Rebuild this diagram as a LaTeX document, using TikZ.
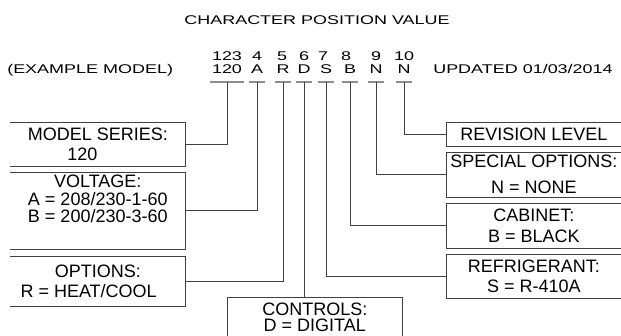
\documentclass[tikz,border=0pt]{standalone}
\usepackage{fontspec}
\setmainfont{Liberation Sans}
\newfontfamily\widefont[FakeStretch=1.42]{Liberation Sans}
\usetikzlibrary{calc}

\begin{document}
\begin{tikzpicture}[x=0.25mm, y=-0.25mm,
    every node/.style={font=\fontsize{12.8}{14.5}\selectfont},
    toptext/.style={font=\fontsize{9}{11}\selectfont\widefont, inner sep=0pt},
    charbox/.style={toptext, anchor=base, inner xsep=1pt, inner ysep=6pt, text depth=0pt},
    infobox/.style={minimum width=43.75mm, inner sep=0pt, align=center, anchor=north west},
    frame/.style={black!75, line width=0.7pt},
    underl/.style={black!45, line width=1.1pt},
    lead/.style={black!75, line width=0.7pt}]
        \useasboundingbox (0,0) rectangle (621,335);
        % heading and model line
        \node[toptext, anchor=base] (title) at (317,24) {CHARACTER POSITION VALUE};
        \node[toptext, anchor=base west] (example) at (7,73.3) {(EXAMPLE MODEL)};
        \node[toptext, anchor=base west] (updated) at (433,73.3) {UPDATED 01/03/2014};
        % character positions
        \node[toptext, anchor=base] (p1) at (227,60.7) {123};
        \node[toptext, anchor=base] (p4) at (257,60.7) {4};
        \node[toptext, anchor=base] (p5) at (282,60.7) {5};
        \node[toptext, anchor=base] (p6) at (304,60.7) {6};
        \node[toptext, anchor=base] (p7) at (323,60.7) {7};
        \node[toptext, anchor=base] (p8) at (346,60.7) {8};
        \node[toptext, anchor=base] (p9) at (376,60.7) {9};
        \node[toptext, anchor=base] (p10) at (404,60.7) {10};
        % character values
        \node[charbox] (c1) at (227,73.3) {120};
        \node[charbox] (c4) at (257,73.3) {A};
        \node[charbox] (c5) at (283,73.3) {R};
        \node[charbox] (c6) at (304,73.3) {D};
        \node[charbox] (c7) at (326,73.3) {S};
        \node[charbox] (c8) at (350,73.3) {B};
        \node[charbox] (c9) at (376,73.3) {N};
        \node[charbox] (c10) at (404,73.3) {N};
        \foreach \c in {c1,c4,c5,c6,c7,c8,c9,c10}
            \draw[underl] (\c.south west) -- (\c.south east);
        % left boxes
        \node[infobox, minimum height=10.9mm] (series) at (10,122) {MODEL SERIES:\\120\hspace*{22pt}};
        \node[infobox, minimum height=19.25mm] (voltage) at (10,172) {VOLTAGE:\\[-2pt]A = 208/230-1-60\\[-2pt]B = 200/230-3-60\\[-2pt]\strut};
        \node[infobox, minimum height=12.5mm] (options) at (10,256) {OPTIONS:\\R = HEAT/COOL\hspace*{13pt}};
        \foreach \b in {series,voltage,options}
            \draw[frame] (\b.north west) -- (\b.north east) -- (\b.south east) -- (\b.south west);
        % bottom box
        \node[infobox, minimum height=10mm] (controls) at (227,297) {CONTROLS:\\[-3pt]D = DIGITAL};
        \draw[frame] (controls.south west) -- (controls.north west) -- (controls.north east) -- (controls.south east);
        % right boxes
        \node[infobox, minimum height=6mm] (revision) at (446,122) {REVISION LEVEL};
        \node[infobox, minimum height=11.25mm] (special) at (446,152) {SPECIAL OPTIONS:\\[4pt]N = NONE};
        \node[infobox, minimum height=11.25mm] (cabinet) at (446,203) {CABINET:\\B = BLACK};
        \node[infobox, minimum height=11mm] (refrig) at (446,254) {REFRIGERANT:\\S = R-410A};
        \foreach \b in {revision,special,cabinet,refrig}
            \draw[frame] (\b.north east) -- (\b.north west) -- (\b.south west) -- (\b.south east);
        % leaders
        \draw[lead] (c1.south) |- (series.east);
        \draw[lead] (c4.south) |- (voltage.east);
        \draw[lead] (c5.south) |- (options.east);
        \draw[lead] (c6.south) -- (c6.south |- controls.north);
        \draw[lead] (c7.south) |- (refrig.west);
        \draw[lead] (c8.south) |- (cabinet.west);
        \draw[lead] (c9.south) |- (special.west);
        \draw[lead] (c10.south) |- (revision.west);
    \end{tikzpicture}
\end{document}
